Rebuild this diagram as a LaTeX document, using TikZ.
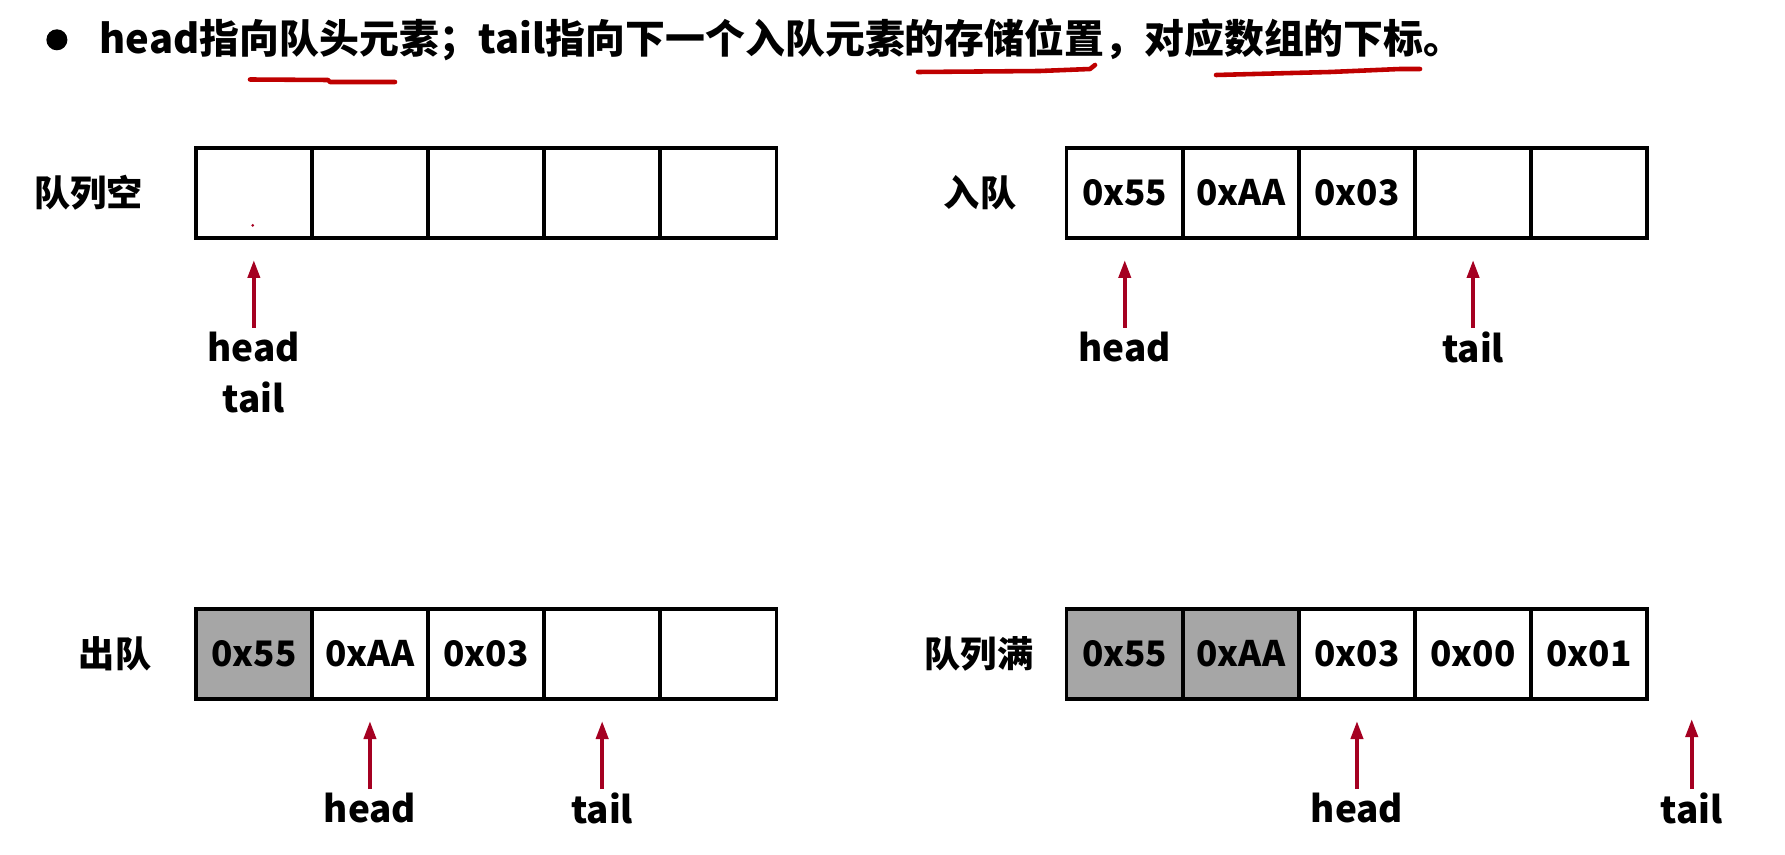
\documentclass[tikz,border=0pt]{standalone}
\usepackage{fontspec}
\setmainfont{Noto Sans CJK SC}
\usetikzlibrary{arrows.meta,positioning}
\definecolor{ptrred}{HTML}{A50021}
\definecolor{oldgray}{HTML}{A6A6A6}

\begin{document}
\begin{tikzpicture}[font=\bfseries, >={Triangle[length=0.18cm,width=0.12cm]},
  cell/.style={draw, line width=1pt, outer sep=0pt, inner sep=0pt, minimum width=1.161cm, minimum height=0.9cm, font=\bfseries\fontsize{10}{12}\selectfont},
  used/.style={cell, fill=oldgray},
  qname/.style={font=\bfseries\fontsize{10.3}{12}\selectfont},
  lbl/.style={inner sep=1pt, align=center, font=\bfseries\fontsize{10.5}{14.5}\selectfont},
  ptr/.style={->, ptrred, line width=1.1pt, shorten >=0.22cm},
  pen/.style={red!75!black, line width=1.3pt, line cap=round, line join=round}]
  \useasboundingbox (0,0) rectangle (17.85,-8.55);

  % title line
  \fill (0.569,-0.398) circle (0.105);
  \node[anchor=west, inner sep=0pt, font=\bfseries\fontsize{11.35}{14}\selectfont] (title) at (0.99,-0.40)
    {head指向队头元素；tail指向下一个入队元素的存储位置，对应数组的下标。};
  \draw[pen] (2.50,-0.795) -- (3.28,-0.80) -- (3.30,-0.82) -- (3.95,-0.82);
  \draw[pen] (9.18,-0.72) -- (10.40,-0.71) -- (10.90,-0.69) -- (10.95,-0.65);
  \draw[pen] (12.16,-0.75) -- (13.30,-0.72) -- (14.00,-0.69) -- (14.20,-0.69);

  % queue empty
  \node[qname] (qe) at (0.888,-1.93) {队列空};
  \foreach \i in {1,...,5}
    \node[cell] (e\i) at ({1.958+(\i-0.5)*1.161},-1.93) {};
  \fill[ptrred] (2.527,-2.254) circle (0.015);
  \node[lbl, below=0.9cm of e1] (eht) {head\\tail};
  \draw[ptr] (eht) -- (e1);

  % enqueue
  \node[qname] (qa) at (9.80,-1.93) {入队};
  \foreach \s/\v [count=\i] in {cell/0x55, cell/0xAA, cell/0x03, cell/{}, cell/{}}
    \node[\s] (a\i) at ({10.667+(\i-0.5)*1.161},-1.93) {\v};
  \node[lbl, below=0.9cm of a1] (ah) {head};
  \node[lbl, below=0.9cm of a4] (at) {tail};
  \draw[ptr] (ah) -- (a1);
  \draw[ptr] (at) -- (a4);

  % dequeue
  \node[qname] (qd) at (1.15,-6.54) {出队};
  \foreach \s/\v [count=\i] in {used/0x55, cell/0xAA, cell/0x03, cell/{}, cell/{}}
    \node[\s] (d\i) at ({1.958+(\i-0.5)*1.161},-6.54) {\v};
  \node[lbl, below=0.9cm of d2] (dh) {head};
  \node[lbl, below=0.9cm of d4] (dt) {tail};
  \draw[ptr] (dh) -- (d2);
  \draw[ptr] (dt) -- (d4);

  % queue full
  \node[qname] (qf) at (9.79,-6.54) {队列满};
  \foreach \s/\v [count=\i] in {used/0x55, used/0xAA, cell/0x03, cell/0x00, cell/0x01}
    \node[\s] (f\i) at ({10.667+(\i-0.5)*1.161},-6.54) {\v};
  \coordinate (fend) at (16.917,-6.99);
  \node[lbl, below=0.9cm of f3] (fh) {head};
  \node[lbl, below=0.9cm of fend] (ft) {tail};
  \draw[ptr] (fh) -- (f3);
  \draw[ptr, shorten >=0.2cm] (ft) -- (fend);
\end{tikzpicture}
\end{document}
